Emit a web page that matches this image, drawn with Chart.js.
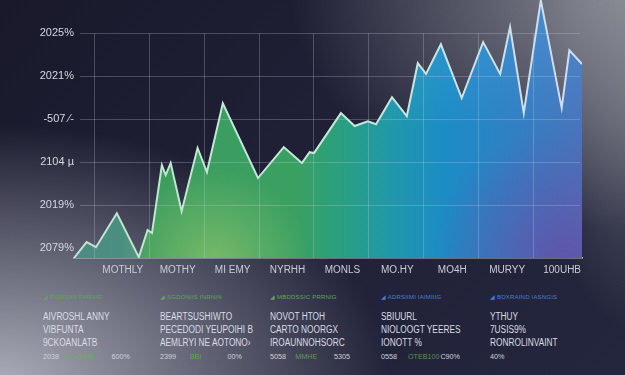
<!DOCTYPE html>
<html>
<head>
<meta charset="utf-8">
<script src="https://cdn.jsdelivr.net/npm/chart.js@4.4.0/dist/chart.umd.min.js"></script>
<style>
html, body { margin: 0; padding: 0; }
body {
  width: 625px; height: 375px; overflow: hidden; position: relative;
  font-family: "Liberation Sans", Arial, sans-serif;
  background:
    radial-gradient(ellipse 100px 260px at 635px 70px, rgba(135,137,147,0.6), rgba(135,137,147,0) 100%),
    radial-gradient(ellipse 360px 240px at 650px -10px, rgba(150,152,160,0.95), rgba(150,152,160,0) 100%),
    radial-gradient(ellipse 390px 260px at 0px 385px, rgba(172,174,186,1), rgba(172,174,186,0) 100%),
    linear-gradient(135deg, #19192b 0%, #202137 50%, #24263d 100%);
}
#wrap { position: absolute; left: 0; top: 0; width: 625px; height: 285px; }
.hd { position: absolute; top: 294px; font-size: 6px; line-height: 7px; letter-spacing: 0.2px; white-space: nowrap; }
.tx { position: absolute; top: 310px; color: #dadce4; font-size: 10px; line-height: 13px; white-space: nowrap;
      transform: scaleX(0.83); transform-origin: 0 0; }
.ft { position: absolute; top: 352px; font-size: 8px; line-height: 9px; white-space: nowrap; color: #cfd1da;
      transform: scaleX(0.9); transform-origin: 0 0; }
.ft span { position: absolute; top: 0; }
</style>
</head>
<body>
<div id="wrap"><canvas id="chart" width="625" height="285"></canvas></div>
<div id="panel"></div>
<script>
// axis labels
var xLabels = ["MOTHLY", "MOTHY", "MI EMY", "NYRHH", "MONLS", "MO.HY", "MO4H", "MURYY", "100UHB"];
var xTickValues = [0, 10, 20, 30, 40, 50, 60, 70, 80];
var yTickLabels = ["2079%", "2019%", "2104 \u00b5", "-507 \u2044-", "2021%", "2025%"];
var yTickValues = [0, 10, 20, 30, 40, 50];

// series
var pointX = [-3.6, -1.3, 0.4, 4.2, 8.2, 9.8, 10.6, 12.4, 13.1, 14.0, 16.0, 18.9, 20.6, 23.5,
  29.9, 34.6, 37.9, 39.3, 40.1, 45.0, 47.5, 49.9, 51.4, 54.3, 57.0, 59.0, 60.5, 63.2,
  67.0, 70.9, 74.0, 75.8, 78.3, 81.4, 85.2, 86.6, 88.9];
var pointY = [-2.3, 1.4, 0.2, 8.1, -2.1, 4.2, 3.5, 19.3, 17.0, 19.8, 8.6, 23.3, 17.7, 33.7,
  16.3, 23.5, 19.8, 22.3, 22.1, 31.4, 28.4, 29.5, 28.8, 35.1, 30.7, 43.0, 40.5, 47.4,
  34.9, 47.9, 40.5, 51.4, 31.4, 57.6, 32.6, 46.0, 42.8];

// info panel under the chart
var panelHeads = ["\u25e2 FISBIDIN PARNIG", "\u25e2 SGDONIIS INRNIN", "\u25e2 MBDDSSIC PRRNIG", "\u25e2 ADRSIIMI IAIMIIIG", "\u25e2 BDXRAIND IASNGIS"];
var panelLines = [
  ["AIVROSHL ANNY", "VIBFUNTA", "9CKOANLATB"],
  ["BEARTSUSHIWTO", "PECEDODI YEUPOIHI B", "AEMLRYI NE AOTONO\u203a"],
  ["NOVOT HTOH", "CARTO NOORGX", "IROAUNNOHSORC"],
  ["SBIUURL", "NIOLOOGT YEERES", "IONOTT %"],
  ["YTHUY", "7USIS9%", "RONROLINVAINT"]
];
var panelFoot = [
  ["2038", "NMMNHE", "600%"],
  ["2399", "BBI", "00%"],
  ["5058", "MMHE", "5305"],
  ["0558", "OTEB100", "C90%"],
  ["40%", "", ""]
];
var panelFootOffsets = [[0, 22, 76], [0, 33, 75], [0, 28, 71], [0, 30, 66], [0, 0, 0]];
var panelLeft = [43, 160, 270, 381, 490];
var headColors = ["#62a35a", "#62a35a", "#62a35a", "#4a7fcf", "#4a7fcf"];

var panel = document.getElementById("panel");
panelHeads.forEach(function (h, i) {
  var hd = document.createElement("div");
  hd.className = "hd";
  hd.style.left = panelLeft[i] + "px";
  hd.style.color = headColors[i];
  hd.textContent = h;
  panel.appendChild(hd);

  var tx = document.createElement("div");
  tx.className = "tx";
  tx.style.left = panelLeft[i] + "px";
  tx.innerHTML = panelLines[i].join("<br>");
  panel.appendChild(tx);

  var ft = document.createElement("div");
  ft.className = "ft";
  ft.style.left = panelLeft[i] + "px";
  panelFoot[i].forEach(function (t, k) {
    var s = document.createElement("span");
    s.style.left = panelFootOffsets[i][k] + "px";
    if (k === 1) s.style.color = "rgba(110,170,95,0.8)";
    s.textContent = t;
    ft.appendChild(s);
  });
  panel.appendChild(ft);
});

var fillCache = null;
function areaFill(chart, a) {
  if (fillCache) return fillCache;
  var off = document.createElement("canvas");
  off.width = chart.width;
  off.height = chart.height;
  var g = off.getContext("2d");
  var w = a.right - a.left, h = a.bottom - a.top;
  var lg = g.createLinearGradient(a.left, 0, a.right, 0);
  lg.addColorStop(0, "#4e8a82");
  lg.addColorStop(0.12, "#4a9080");
  lg.addColorStop(0.145, "#3c9c5e");
  lg.addColorStop(0.44, "#3aa062");
  lg.addColorStop(0.52, "#2aa07e");
  lg.addColorStop(0.63, "#2097ab");
  lg.addColorStop(0.73, "#1b8cc6");
  lg.addColorStop(0.86, "#3080c4");
  lg.addColorStop(1, "#4a74bb");
  g.fillStyle = lg;
  g.fillRect(a.left, a.top, w, h);
  // purple pool bottom right
  var rg = g.createRadialGradient(a.right - 20, a.bottom, 0, a.right - 20, a.bottom, 130);
  rg.addColorStop(0, "rgba(98,82,168,0.9)");
  rg.addColorStop(1, "rgba(98,82,168,0)");
  g.fillStyle = rg;
  g.fillRect(a.left, a.top, w, h);
  // light green glow along the base
  var gg = g.createRadialGradient(a.left + 140, a.bottom + 5, 0, a.left + 140, a.bottom + 5, 95);
  gg.addColorStop(0, "rgba(160,205,110,0.6)");
  gg.addColorStop(1, "rgba(160,205,110,0)");
  g.fillStyle = gg;
  g.fillRect(a.left, a.top, w, h);
  // lighter blue near the top right peaks
  var tg = g.createLinearGradient(0, a.top, 0, a.top + h * 0.5);
  tg.addColorStop(0, "rgba(95,175,230,0.35)");
  tg.addColorStop(1, "rgba(95,175,230,0)");
  g.fillStyle = tg;
  g.fillRect(a.left + w * 0.6, a.top, w * 0.4, h);
  fillCache = g.createPattern(off, "no-repeat");
  return fillCache;
}

var gridLines = {
  id: "gridLines",
  afterDatasetsDraw: function (chart) {
    var ctx = chart.ctx, xs = chart.scales.x, ys = chart.scales.y;
    var top = ys.getPixelForValue(yTickValues[yTickValues.length - 1]);
    var bottom = chart.chartArea.bottom;
    ctx.save();
    ctx.strokeStyle = "rgba(205,212,232,0.26)";
    ctx.lineWidth = 1;
    xTickValues.forEach(function (v) {
      var px = Math.round(xs.getPixelForValue(v)) + 0.5;
      ctx.beginPath();
      ctx.moveTo(px, top);
      ctx.lineTo(px, bottom);
      ctx.stroke();
    });
    yTickValues.slice(1).forEach(function (v) {
      var py = Math.round(ys.getPixelForValue(v)) + 0.5;
      ctx.beginPath();
      ctx.moveTo(xs.left + 6, py);
      ctx.lineTo(xs.right - 2, py);
      ctx.stroke();
    });
    ctx.restore();
  }
};

new Chart(document.getElementById("chart"), {
  type: "line",
  data: {
    datasets: [{
      data: pointX.map(function (x, i) { return { x: x, y: pointY[i] }; }),
      fill: "start",
      tension: 0,
      pointRadius: 0,
      borderWidth: 2,
      borderJoinStyle: "miter",
      borderColor: function (c) {
        var a = c.chart.chartArea;
        if (!a) return "#cfe8dc";
        var sg = c.chart.ctx.createLinearGradient(a.left, 0, a.right, 0);
        sg.addColorStop(0, "#bfe3cf");
        sg.addColorStop(0.5, "#c4ead8");
        sg.addColorStop(1, "#cfdcf2");
        return sg;
      },
      backgroundColor: function (c) {
        var a = c.chart.chartArea;
        if (!a) return "rgba(0,0,0,0)";
        return areaFill(c.chart, a);
      }
    }]
  },
  options: {
    responsive: false,
    animation: false,
    layout: { padding: { left: 0, right: 43, top: 0, bottom: 0 } },
    plugins: { legend: { display: false }, tooltip: { enabled: false } },
    scales: {
      x: {
        type: "linear",
        min: -3.6,
        max: 88.9,
        afterBuildTicks: function (s) { s.ticks = xTickValues.map(function (v) { return { value: v }; }); },
        afterFit: function (s) { s.height = 27; },
        grid: { display: true, drawOnChartArea: false, drawTicks: false, color: "rgba(0,0,0,0)" },
        border: { display: true, color: "rgba(215,222,235,0.8)", width: 1.5 },
        ticks: {
          autoSkip: false, maxRotation: 0, padding: 6, labelOffset: 29,
          color: "#c9ccd6", font: { family: "Liberation Sans", size: 10 },
          callback: function (v, i) { return xLabels[i]; }
        }
      },
      y: {
        min: -2.3,
        max: 57.7,
        afterBuildTicks: function (s) { s.ticks = yTickValues.map(function (v) { return { value: v }; }); },
        afterFit: function (s) { s.width = 74; s.paddingTop = 0; s.paddingBottom = 0; },
        grid: { display: false, drawTicks: false },
        border: { display: false },
        ticks: {
          padding: 0,
          color: "#d6d8e2", font: { family: "Liberation Sans", size: 11 },
          callback: function (v, i) { return yTickLabels[i]; }
        }
      }
    }
  },
  plugins: [gridLines]
});
</script>
</body>
</html>
